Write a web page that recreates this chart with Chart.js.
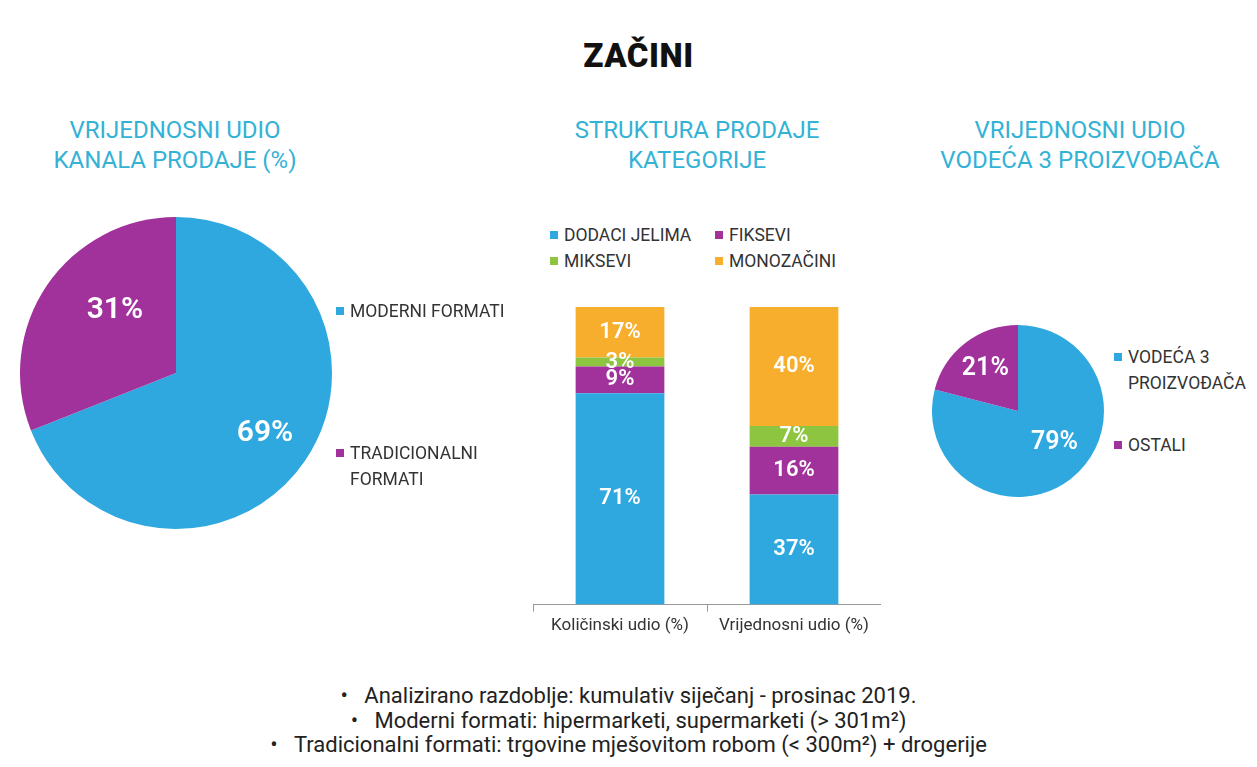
<!DOCTYPE html>
<html>
<head>
<meta charset="utf-8">
<script src="https://cdn.jsdelivr.net/npm/chart.js@4.4.1/dist/chart.umd.min.js"></script>
<style>
  body { margin: 0; background: #fff; font-family: Roboto, "Noto Sans", sans-serif; }
  #page { position: relative; width: 1257px; height: 767px; overflow: hidden; }
  .abs { position: absolute; }
  h1 { position: absolute; left: 10px; width: 1257px; top: 36px; margin: 0; text-align: center;
       font: 900 33px Roboto, sans-serif; color: #111; letter-spacing: 0.5px; line-height: 40px; }
  .sub { position: absolute; text-align: center; color: #33b2d6; font: 400 24px Roboto, sans-serif; line-height: 30px; }
  .leg { position: absolute; font: 400 17.5px Roboto, sans-serif; color: #333; line-height: 26px; }
  .leg .item { display: inline-flex; vertical-align: top; }
  .leg .sw { flex: none; width: 8px; height: 8px; margin: 9px 6px 0 0; }
  .notes { position: absolute; left: 0; width: 1257px; top: 684px; text-align: center;
           font: 400 22px Roboto, sans-serif; color: #222; line-height: 24.5px; }
</style>
</head>
<body>
<div id="page">
  <h1>ZAČINI</h1>

  <div class="sub" style="left:25px;width:300px;top:115px">VRIJEDNOSNI UDIO<br>KANALA PRODAJE (%)</div>
  <div class="sub" style="left:547px;width:300px;top:115px">STRUKTURA PRODAJE<br>KATEGORIJE</div>
  <div class="sub" style="left:930px;width:300px;top:115px">VRIJEDNOSNI UDIO<br>VODEĆA 3 PROIZVOĐAČA</div>

  <div class="abs" style="left:20px;top:215px;width:312px;height:316px"><canvas id="channelPie"></canvas></div>
  <div class="abs" style="left:533px;top:307px;width:348px;height:333px"><canvas id="structBar"></canvas></div>
  <div class="abs" style="left:932px;top:325px;width:172px;height:172px"><canvas id="makerPie"></canvas></div>

  <div class="leg" id="legChannel" style="left:336px;top:298px;width:200px"></div>
  <div class="leg" id="legStruct" style="left:550px;top:222px;width:340px"></div>
  <div class="leg" id="legMaker" style="left:1114px;top:344px;width:143px"></div>

  <div class="notes">
    •&nbsp;&nbsp;&nbsp;Analizirano razdoblje: kumulativ siječanj - prosinac 2019.<br>
    •&nbsp;&nbsp;&nbsp;Moderni formati: hipermarketi, supermarketi (&gt; 301m²)<br>
    •&nbsp;&nbsp;&nbsp;Tradicionalni formati: trgovine mješovitom robom (&lt; 300m²) + drogerije
  </div>
</div>

<script>
// ---- data ----
const channelLabels = ["MODERNI FORMATI", "TRADICIONALNI FORMATI"];
const channelValues = [69, 31];

const structCategories = ["Količinski udio (%)", "Vrijednosni udio (%)"];
const structSeries = ["DODACI JELIMA", "FIKSEVI", "MIKSEVI", "MONOZAČINI"];
const dodaciJelima = [71, 37];
const fiksevi = [9, 16];
const miksevi = [3, 7];
const monozacini = [17, 40];

const makerLabels = ["VODEĆA 3 PROIZVOĐAČA", "OSTALI"];
const makerValues = [79, 21];

const BLUE = "#2fa8e0";
const PURPLE = "#a1329b";
const GREEN = "#8dc540";
const ORANGE = "#f7ae2c";

// white % labels on slices / bar segments
const valueLabels = {
    id: "valueLabels",
    afterDatasetsDraw(chart, args, opts) {
        const ctx = chart.ctx;
        ctx.save();
        ctx.fillStyle = "#fff";
        ctx.font = `600 ${opts.size || 20}px Roboto, sans-serif`;
        ctx.textAlign = "center";
        ctx.textBaseline = "middle";
        chart.data.datasets.forEach((ds, di) => {
            const meta = chart.getDatasetMeta(di);
            meta.data.forEach((el, i) => {
                let x, y;
                if (meta.type === "pie") {
                    const a = (el.startAngle + el.endAngle) / 2 + (opts.turn ? opts.turn[i] : 0);
                    const r = el.outerRadius * (opts.dist ? opts.dist[i] : 0.65);
                    x = el.x + Math.cos(a) * r;
                    y = el.y + Math.sin(a) * r;
                } else {
                    x = el.x;
                    y = (el.y + el.base) / 2;
                }
                ctx.fillText(ds.data[i] + "%", x, y);
            });
        });
        ctx.restore();
    }
};

function buildLegend(id, labels, colors, widths, gaps) {
    const box = document.getElementById(id);
    box.innerHTML = labels.map((l, i) =>
        `<div class="item" style="width:${widths[i] || "100%"};margin-top:${gaps[i] || 0}px">` +
        `<span class="sw" style="background:${colors[i]}"></span><span>${l}</span></div>`
    ).join("");
}

function renderPie(id, labels, values, dist, turn, size) {
    new Chart(document.getElementById(id), {
        type: "pie",
        data: {
            labels,
            datasets: [{ data: values, backgroundColor: [BLUE, PURPLE], borderWidth: 0 }]
        },
        options: {
            responsive: true,
            maintainAspectRatio: false,
            animation: false,
            layout: { padding: 0 },
            plugins: {
                legend: { display: false },
                tooltip: { enabled: false },
                valueLabels: { dist, turn, size }
            }
        },
        plugins: [valueLabels]
    });
}

renderPie("channelPie", channelLabels, channelValues, [0.69, 0.56], [0, 0.2], 30);
renderPie("makerPie", makerLabels, makerValues, [0.56, 0.62], [-0.2, 0], 25);

new Chart(document.getElementById("structBar"), {
    type: "bar",
    data: {
        labels: structCategories,
        datasets: [
            { label: structSeries[0], data: dodaciJelima, backgroundColor: BLUE },
            { label: structSeries[1], data: fiksevi, backgroundColor: PURPLE },
            { label: structSeries[2], data: miksevi, backgroundColor: GREEN },
            { label: structSeries[3], data: monozacini, backgroundColor: ORANGE }
        ]
    },
    options: {
        responsive: true,
        maintainAspectRatio: false,
        animation: false,
        layout: { padding: 0 },
        datasets: { bar: { categoryPercentage: 1, barPercentage: 0.51, borderWidth: 0 } },
        scales: {
            x: {
                stacked: true,
                grid: { display: true, drawOnChartArea: false, offset: true, tickLength: 7, color: "#999" },
                border: { display: true, color: "#999" },
                ticks: { color: "#333", font: { family: "Roboto", size: 17 }, padding: 4 }
            },
            y: { stacked: true, display: false, min: 0, max: 100 }
        },
        plugins: {
            legend: { display: false },
            tooltip: { enabled: false },
            valueLabels: { size: 22 }
        }
    },
    plugins: [valueLabels]
});

buildLegend("legChannel", ["MODERNI FORMATI", "TRADICIONALNI<br>FORMATI"], [BLUE, PURPLE], [], [0, 116]);
buildLegend("legStruct", structSeries, [BLUE, PURPLE, GREEN, ORANGE], ["165px", "170px", "165px", "170px"], []);
buildLegend("legMaker", ["VODEĆA 3<br>PROIZVOĐAČA", "OSTALI"], [BLUE, PURPLE], [], [0, 36]);
</script>
</body>
</html>
